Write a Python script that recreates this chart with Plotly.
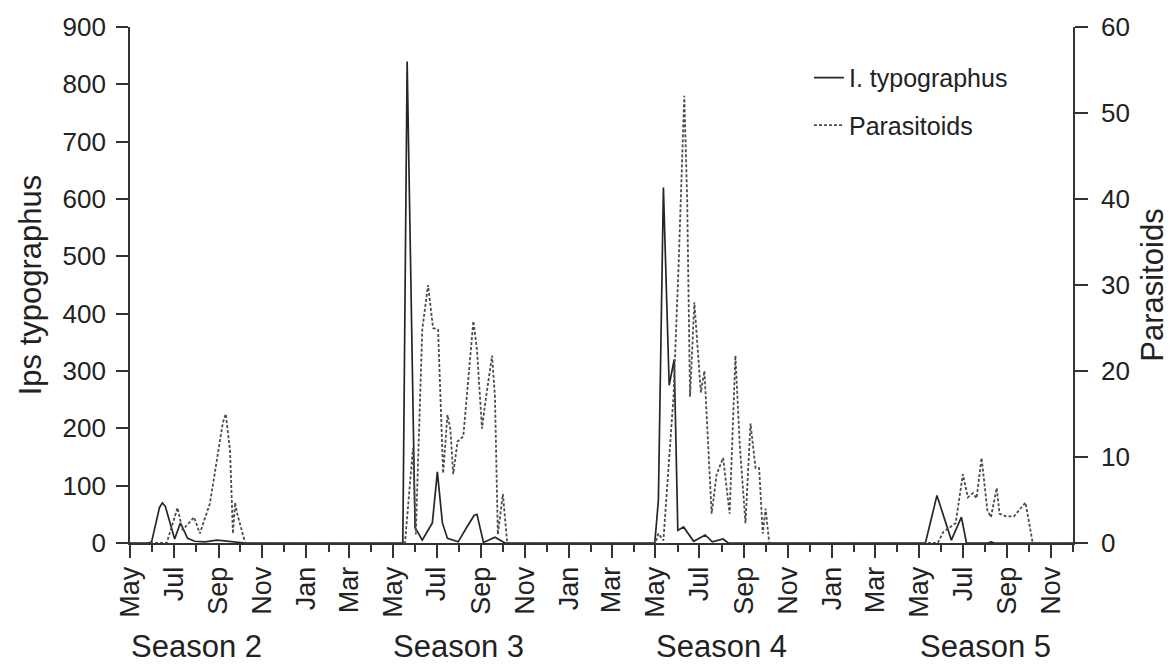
import plotly.graph_objects as go

# ---------------- data ----------------
seasons = ["Season 2", "Season 3", "Season 4", "Season 5"]
season_years = [2001, 2002, 2003, 2004]

# Season 2
s2_ips_dates = ["2001-05-27", "2001-05-31", "2001-06-07", "2001-06-11", "2001-06-15", "2001-06-19",
                "2001-06-25", "2001-07-02", "2001-07-10", "2001-07-20", "2001-07-30", "2001-08-13",
                "2001-08-30", "2001-09-14", "2001-10-01", "2001-10-08"]
s2_ips = [0, 2, 38, 62, 70, 64, 38, 7, 35, 8, 3, 2, 5, 3, 1, 0]
s2_par_dates = ["2001-06-21", "2001-07-06", "2001-07-13", "2001-07-29", "2001-08-06", "2001-08-20",
                "2001-08-30", "2001-09-07", "2001-09-11", "2001-09-17", "2001-09-21", "2001-09-24",
                "2001-09-27", "2001-10-08"]
s2_par = [0, 4.1, 1.5, 3, 1.1, 4.6, 10, 14, 15, 10.7, 1.1, 4.7, 3.4, 0]

# Season 3
s3_ips_dates = ["2002-05-15", "2002-05-21", "2002-06-01", "2002-06-11", "2002-06-18", "2002-06-25",
                "2002-07-02", "2002-07-09", "2002-07-16", "2002-07-31", "2002-08-12", "2002-08-22",
                "2002-08-26", "2002-09-04", "2002-09-20", "2002-10-04"]
s3_ips = [0, 840, 27, 5, 20, 35, 124, 35, 8, 2, 28, 48, 50, 1, 10, 0]
s3_par_dates = ["2002-05-18", "2002-05-29", "2002-06-02", "2002-06-11", "2002-06-19", "2002-06-26",
                "2002-07-03", "2002-07-10", "2002-07-16", "2002-07-20", "2002-07-24", "2002-07-30",
                "2002-08-07", "2002-08-21", "2002-08-26", "2002-09-02", "2002-09-06", "2002-09-16",
                "2002-09-20", "2002-09-24", "2002-10-01", "2002-10-07"]
s3_par = [0, 11, 1, 24.8, 30, 25, 24.8, 8.1, 14.9, 13.3, 8, 11.8, 12.4, 25.8, 22.5, 13.3, 16, 21.8,
          17, 1, 5.7, 0]

# Season 4
s4_ips_dates = ["2003-04-30", "2003-05-05", "2003-05-12", "2003-05-20", "2003-05-27", "2003-06-01",
                "2003-06-09", "2003-06-23", "2003-07-09", "2003-07-19", "2003-08-03", "2003-08-10"]
s4_ips = [0, 74, 620, 275, 320, 22, 28, 3, 14, 2, 7, 0]
s4_par_dates = ["2003-05-01", "2003-05-05", "2003-05-12", "2003-05-26", "2003-06-02", "2003-06-10",
                "2003-06-14", "2003-06-18", "2003-06-24", "2003-06-28", "2003-07-03", "2003-07-08",
                "2003-07-18", "2003-07-25", "2003-08-03", "2003-08-12", "2003-08-20", "2003-08-26",
                "2003-09-03", "2003-09-10", "2003-09-17", "2003-09-22", "2003-09-27", "2003-10-01",
                "2003-10-06"]
s4_par = [0, 1.1, 0.3, 17, 32, 52, 40, 17, 28, 23, 17.5, 20, 3.4, 8, 9.9, 3.4, 21.8, 11.5, 2.3,
          13.9, 8.7, 8.7, 1.1, 4, 0]

# Season 5
s5_ips_dates = ["2004-05-10", "2004-05-26", "2004-06-15", "2004-06-29", "2004-07-06", "2004-08-05",
                "2004-08-09", "2004-08-14"]
s5_ips = [0, 83, 5, 45, 0, 0, 2, 0]
s5_par_dates = ["2004-05-27", "2004-06-04", "2004-06-21", "2004-07-01", "2004-07-08", "2004-07-15",
                "2004-07-20", "2004-07-27", "2004-08-04", "2004-08-09", "2004-08-17", "2004-08-21",
                "2004-08-30", "2004-09-10", "2004-09-26", "2004-10-06"]
s5_par = [0, 1.3, 2.3, 8, 5.3, 5.8, 5.2, 9.9, 3.8, 3, 6.4, 3.4, 3.1, 3.1, 4.7, 0]

x_start = "2001-05-01"
x_end = "2004-12-01"
left_ticks = [0, 100, 200, 300, 400, 500, 600, 700, 800, 900]
right_ticks = [0, 10, 20, 30, 40, 50, 60]

# ---------------- assemble ----------------
ips_x = [x_start] + s2_ips_dates + s3_ips_dates + s4_ips_dates + s5_ips_dates + [x_end]
ips_y = [0] + s2_ips + s3_ips + s4_ips + s5_ips + [0]
par_x = [x_start] + s2_par_dates + s3_par_dates + s4_par_dates + s5_par_dates + [x_end]
par_y = [0] + s2_par + s3_par + s4_par + s5_par + [0]

FONT = "Liberation Sans, Arial, Helvetica, sans-serif"
INK = "#222222"
AX = "#333333"

fig = go.Figure()
fig.add_trace(go.Scatter(x=ips_x, y=ips_y, mode="lines", name="I. typographus",
                         legendgroup="a", line=dict(color="#262626", width=1.7)))
fig.add_trace(go.Scatter(x=par_x, y=par_y, mode="lines", name="Parasitoids", yaxis="y2",
                         legendgroup="b", line=dict(color="#4d4d4d", width=1.8, dash="3px,2px")))

for name, yr in zip(seasons, season_years):
    fig.add_annotation(x=f"{yr}-08-01", xref="x", y=-0.2, yref="paper", text=name,
                       showarrow=False, font=dict(size=31, color=INK, family=FONT),
                       xanchor="center", yanchor="middle")

fig.update_layout(
    width=1176, height=664,
    margin=dict(l=130, r=103, t=20, b=121),
    plot_bgcolor="white", paper_bgcolor="white",
    font=dict(family=FONT, size=26, color=INK),
    legend=dict(x=0.72, y=0.946, xanchor="left", yanchor="top", bgcolor="rgba(0,0,0,0)",
                font=dict(size=25), tracegroupgap=12, traceorder="grouped"),
    xaxis=dict(type="date", range=[x_start, x_end], tick0=x_start, dtick="M2", tickformat="%b",
               tickangle=-90, ticks="outside", ticklen=13, tickwidth=1.5, tickcolor=AX,
               showline=True, linecolor=AX, linewidth=1.8, showgrid=False, zeroline=False,
               ticklabelstandoff=-2, tickfont=dict(size=27),
               minor=dict(dtick="M1", tick0=x_start, ticks="outside", ticklen=7, tickwidth=1.5,
                          tickcolor=AX, showgrid=False)),
    yaxis=dict(range=[0, 900], tickvals=left_ticks, ticks="outside", ticklen=12, tickwidth=1.5,
               tickcolor=AX, showline=True, linecolor=AX, linewidth=1.8, showgrid=False,
               zeroline=False, ticklabelstandoff=5, tickfont=dict(size=26),
               title=dict(text="Ips typographus", font=dict(size=31), standoff=12)),
    yaxis2=dict(range=[0, 60], tickvals=right_ticks, overlaying="y", side="right", ticks="outside",
                ticklen=13, tickwidth=1.5, tickcolor=AX, showline=True, linecolor=AX, linewidth=1.8,
                showgrid=False, zeroline=False, ticklabelstandoff=8, tickfont=dict(size=26),
                title=dict(text="Parasitoids", font=dict(size=31), standoff=12)),
)

fig.write_html("out.html")
